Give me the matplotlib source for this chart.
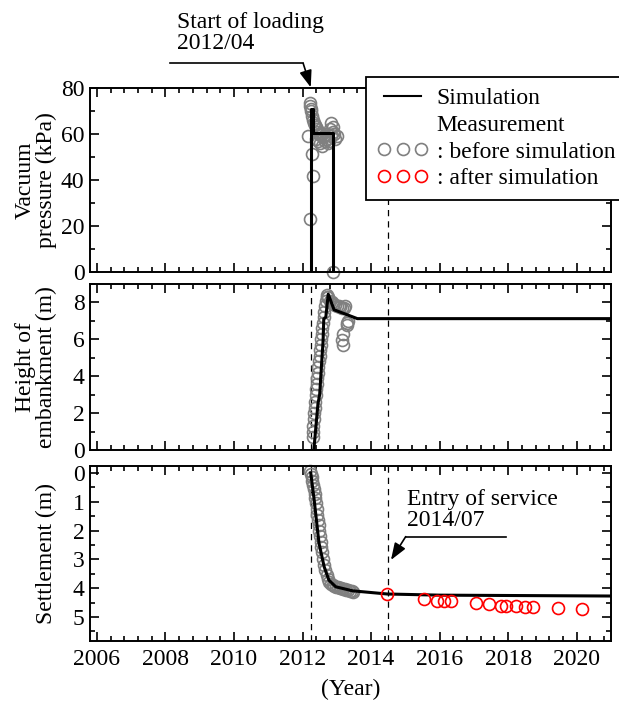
import matplotlib
matplotlib.use("Agg")
import matplotlib.pyplot as plt
from matplotlib.lines import Line2D
from matplotlib.ticker import MultipleLocator

plt.rcParams["font.family"] = ["Liberation Serif", "DejaVu Serif"]
plt.rcParams["font.size"] = 17

# --- datos: presion de vacio (kPa) ---
sim_vac_t = [2012.25, 2012.25, 2012.31, 2012.31, 2012.90, 2012.90]
sim_vac_v = [0, 71, 71, 60.5, 60.5, 0]
meas_vac_t = [2012.16, 2012.22, 2012.28, 2012.31, 2012.23, 2012.22, 2012.24, 2012.26,
              2012.28, 2012.30, 2012.33, 2012.36, 2012.38, 2012.42, 2012.45, 2012.48,
              2012.52, 2012.56, 2012.60, 2012.64, 2012.68, 2012.72, 2012.76, 2012.80,
              2012.84, 2012.88, 2012.92, 2012.96, 2013.00, 2012.50, 2012.58, 2012.66,
              2012.74, 2012.82, 2012.90, 2012.40, 2012.46, 2012.89]
meas_vac_v = [59, 73.5, 51.5, 41.7, 23, 72, 71, 70,
              68, 66, 65, 64, 63, 62, 61, 60,
              59.5, 60, 58.5, 59, 58, 60, 57, 62,
              65, 63, 60, 58, 59, 56, 55, 57,
              56, 59, 61, 58, 57, 0]

# --- datos: altura del terraplen (m) ---
sim_h_t = [2012.33, 2012.45, 2012.50, 2012.55, 2012.60, 2012.62, 2012.68, 2012.75,
           2012.92, 2013.60, 2021.0]
sim_h_v = [0, 2.5, 3.0, 4.5, 5.9, 7.1, 7.2, 8.45, 7.6, 7.12, 7.12]
meas_h_t = [2012.30, 2012.31, 2012.32, 2012.33, 2012.34, 2012.36, 2012.37, 2012.39,
            2012.40, 2012.42, 2012.43, 2012.45, 2012.46, 2012.48, 2012.50, 2012.51,
            2012.53, 2012.55, 2012.56, 2012.58, 2012.60, 2012.62, 2012.64, 2012.66,
            2012.68, 2012.70, 2012.72, 2012.75, 2012.80, 2012.85, 2012.90, 2012.95,
            2013.00, 2013.05, 2013.10, 2013.15, 2013.20, 2013.25, 2013.29, 2013.34,
            2013.17, 2013.14, 2013.19, 2013.31]
meas_h_v = [0.7, 1.0, 1.3, 1.7, 2.0, 2.3, 2.6, 3.0,
            3.3, 3.6, 3.9, 4.2, 4.5, 4.8, 5.1, 5.4,
            5.7, 6.0, 6.3, 6.6, 6.9, 7.2, 7.5, 7.8,
            8.1, 8.3, 8.4, 8.3, 8.1, 8.0, 7.9, 7.85,
            7.8, 7.8, 7.75, 7.7, 7.7, 7.8, 6.87, 7.0,
            6.3, 5.95, 5.67, 6.8]

# --- datos: asentamiento (m) ---
sim_s_t = [2012.24, 2012.34, 2012.48, 2012.63, 2012.77, 2012.97, 2013.46, 2014.47,
           2016.0, 2021.0]
sim_s_v = [0.0, 0.94, 2.43, 3.25, 3.72, 3.95, 4.09, 4.2, 4.24, 4.27]
meas_s_t = [2012.22, 2012.25, 2012.27, 2012.29, 2012.31, 2012.33, 2012.35, 2012.37,
            2012.39, 2012.41, 2012.43, 2012.45, 2012.47, 2012.49, 2012.51, 2012.53,
            2012.55, 2012.57, 2012.60, 2012.63, 2012.66, 2012.70, 2012.74, 2012.78,
            2012.83, 2012.88, 2012.93, 2012.98, 2013.03, 2013.08, 2013.13, 2013.18,
            2013.23, 2013.28, 2013.33, 2013.38, 2013.43, 2013.48]
meas_s_v = [-0.05, 0.05, 0.15, 0.28, 0.42, 0.55, 0.72, 0.88,
            1.05, 1.25, 1.45, 1.62, 1.8, 2.0, 2.2, 2.38,
            2.58, 2.75, 3.0, 3.2, 3.38, 3.55, 3.68, 3.77,
            3.85, 3.9, 3.93, 3.95, 3.97, 3.98, 4.0, 4.01,
            4.03, 4.05, 4.07, 4.09, 4.1, 4.12]
after_s_t = [2014.47, 2015.54, 2015.93, 2016.12, 2016.32, 2017.06, 2017.44, 2017.78,
             2017.93, 2018.24, 2018.48, 2018.71, 2019.45, 2020.14]
after_s_v = [4.2, 4.38, 4.43, 4.43, 4.43, 4.52, 4.56, 4.6,
             4.6, 4.62, 4.64, 4.64, 4.68, 4.72]

fecha_carga = 2012.25
fecha_servicio = 2014.5

gris = "#808080"
mk = dict(ls="none", marker="o", mfc="none", ms=8.6, mew=1.2)

fig = plt.figure(figsize=(6.19, 7.02), dpi=100)
ax1 = fig.add_axes([0.1454, 0.6125, 0.8417, 0.2621])
ax2 = fig.add_axes([0.1454, 0.3590, 0.8417, 0.2365])
ax3 = fig.add_axes([0.1454, 0.0869, 0.8417, 0.2493])

for ax in (ax1, ax2, ax3):
    ax.set_xlim(2005.8, 2021)
    ax.xaxis.set_major_locator(MultipleLocator(2))
    ax.xaxis.set_minor_locator(MultipleLocator(0.4))
    ax.tick_params(which="both", direction="in", top=True, right=True, width=1.2)
    ax.tick_params(which="major", length=6.5)
    ax.tick_params(which="minor", length=3.5)
    ax.tick_params(axis="x", pad=6)
    ax.tick_params(axis="y", pad=4)
    for s in ax.spines.values():
        s.set_linewidth(1.4)

# Grafico 1: presion de vacio
ax1.plot(meas_vac_t, meas_vac_v, mec=gris, clip_on=False, zorder=2, **mk)
ax1.plot(sim_vac_t, sim_vac_v, color="k", lw=2.2, zorder=3)
ax1.axvline(fecha_servicio, color="k", lw=0.9, ls=(0, (5, 4)), zorder=1)
ax1.set_ylim(0, 80)
ax1.yaxis.set_major_locator(MultipleLocator(20))
ax1.yaxis.set_minor_locator(MultipleLocator(10))
ax1.set_xticklabels([])
ax1.set_ylabel("Vacuum\npressure (kPa)", linespacing=1.0)

ax1.plot([2008.14, 2012.02], [90.7, 90.7], color="k", lw=1.2, clip_on=False)
ax1.annotate("", xy=(2012.24, 80.3), xytext=(2012.02, 90.7), annotation_clip=False,
             arrowprops=dict(arrowstyle="-|>,head_length=0.6,head_width=0.22",
                             color="k", lw=1.2, shrinkA=0, shrinkB=0))
ax1.text(2008.33, 104, "Start of loading\n2012/04", ha="left", va="center",
         linespacing=1.0)

# Grafico 2: altura del terraplen
ax2.plot(meas_h_t, meas_h_v, mec=gris, zorder=2, **mk)
ax2.plot(sim_h_t, sim_h_v, color="k", lw=2.2, zorder=3)
ax2.axvline(fecha_carga, color="k", lw=0.9, ls=(0, (5, 4)), zorder=1)
ax2.axvline(fecha_servicio, color="k", lw=0.9, ls=(0, (5, 4)), zorder=1)
ax2.set_ylim(0, 9)
ax2.yaxis.set_major_locator(MultipleLocator(2))
ax2.yaxis.set_minor_locator(MultipleLocator(1))
ax2.set_xticklabels([])
ax2.set_ylabel("Height of\nembankment (m)", linespacing=1.0)

# Grafico 3: asentamiento
ax3.plot(meas_s_t, meas_s_v, mec=gris, clip_on=False, zorder=2, **mk)
ax3.plot(sim_s_t, sim_s_v, color="k", lw=2.2, zorder=3)
ax3.plot(after_s_t, after_s_v, mec="red", zorder=4, **mk)
ax3.axvline(fecha_carga, color="k", lw=0.9, ls=(0, (5, 4)), zorder=1)
ax3.axvline(fecha_servicio, color="k", lw=0.9, ls=(0, (5, 4)), zorder=1)
ax3.set_ylim(5.83, -0.24)
ax3.yaxis.set_major_locator(MultipleLocator(1))
ax3.yaxis.set_minor_locator(MultipleLocator(0.5))
ax3.set_ylabel("Settlement (m)")
ax3.set_xlabel("(Year)", labelpad=6)

ax3.plot([2015.01, 2017.95], [2.21, 2.21], color="k", lw=1.2)
ax3.annotate("", xy=(2014.58, 3.02), xytext=(2015.01, 2.21),
             arrowprops=dict(arrowstyle="-|>,head_length=0.6,head_width=0.22",
                             color="k", lw=1.2, shrinkA=0, shrinkB=0))
ax3.text(2015.06, 1.29, "Entry of service\n2014/07", ha="left", va="center",
         linespacing=1.0)

for ax in (ax1, ax2, ax3):
    ax.yaxis.set_label_coords(-0.064, 0.5)

# Leyenda
handles = [
    Line2D([], [], color="k", lw=1.5),
    Line2D([], [], ls="none"),
    Line2D([], [], mec=gris, **mk),
    Line2D([], [], mec="red", **mk),
]
labels = ["Simulation", "Measurement", ": before simulation", ": after simulation"]
leg = fig.legend(handles, labels, loc="upper left", bbox_to_anchor=(366 / 619, 1 - 77 / 702),
                 frameon=True, fancybox=False, edgecolor="k", framealpha=1,
                 borderpad=0.45, labelspacing=0.22, handlelength=2.2, handletextpad=0.35,
                 borderaxespad=0, numpoints=3, fontsize=17)
leg.get_frame().set_linewidth(1.3)

fig.savefig("out.png", dpi=100)
